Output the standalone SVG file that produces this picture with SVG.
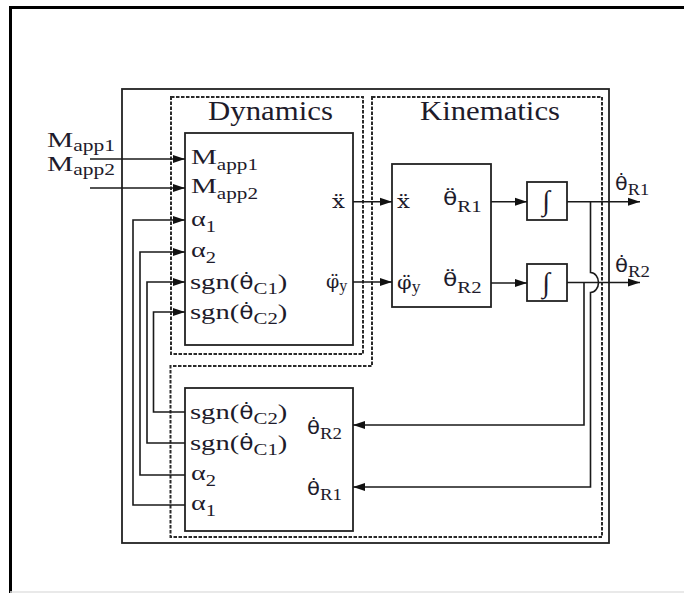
<svg xmlns="http://www.w3.org/2000/svg" width="684" height="593" viewBox="0 0 684 593">
<style>
.t{font-family:"Liberation Serif","Times New Roman",serif;font-size:22px;fill:#1e1b2b}
.h{font-size:28px}
.s{font-size:16px}
.g{font-family:"DejaVu Serif",serif;font-size:19px}
.q{font-family:"DejaVu Sans","Open Sans",sans-serif;font-size:18px}
.box{fill:none;stroke:#222;stroke-width:1.8}
.dash{fill:none;stroke:#2a2a2a;stroke-width:2;stroke-dasharray:3.5 1.5}
.ca{fill:none;stroke:#1a1a1a;stroke-width:1.6;marker-end:url(#ah)}
</style>
<defs>
<marker id="ah" markerUnits="userSpaceOnUse" markerWidth="13" markerHeight="9" refX="12" refY="4.5" orient="auto">
<path d="M0,0.5 L12,4.5 L0,8.5 z" fill="#111"/>
</marker>
</defs>
<rect width="684" height="593" fill="#fff"/>
<path d="M10.5,593 V7.5 H684" fill="none" stroke="#000" stroke-width="3"/>
<path d="M10,592 H684" stroke="#e2e2e2" stroke-width="1.5"/>

<g id="outer">
<rect class="box" x="122" y="89" width="487" height="454"/>
</g>
<g id="dynamics-region">
<rect class="dash" x="171" y="97" width="192" height="257"/>
<text class="t h" x="208" y="120" textLength="125" lengthAdjust="spacingAndGlyphs">Dynamics</text>
</g>
<g id="kinematics-region">
<path class="dash" d="M372,97 H602 V537 H170.5 V366 H372 Z"/>
<text class="t h" x="420" y="120" textLength="140" lengthAdjust="spacingAndGlyphs">Kinematics</text>
</g>

<g id="inputs">
<text class="t" x="47" y="147" textLength="68" lengthAdjust="spacingAndGlyphs">M<tspan class="s" dy="4">app1</tspan></text>
<text class="t" x="47" y="171" textLength="68" lengthAdjust="spacingAndGlyphs">M<tspan class="s" dy="4">app2</tspan></text>
</g>

<g id="dynamics-block">
<rect class="box" x="185" y="133" width="168" height="212"/>
<text class="t" x="191" y="164" textLength="67" lengthAdjust="spacingAndGlyphs">M<tspan class="s" dy="6">app1</tspan></text>
<text class="t" x="191" y="193" textLength="67" lengthAdjust="spacingAndGlyphs">M<tspan class="s" dy="6">app2</tspan></text>
<text class="t" x="191" y="226" textLength="25" lengthAdjust="spacingAndGlyphs">α<tspan class="s" dy="6">1</tspan></text>
<text class="t" x="191" y="257" textLength="25" lengthAdjust="spacingAndGlyphs">α<tspan class="s" dy="6">2</tspan></text>
<text class="t" transform="translate(190,289) scale(1.3,1)">sgn(<tspan class="q">θ&#x307;</tspan><tspan class="s" dy="5">C1</tspan><tspan dy="-5">)</tspan></text>
<text class="t" transform="translate(190,319) scale(1.3,1)">sgn(<tspan class="q">θ&#x307;</tspan><tspan class="s" dy="5">C2</tspan><tspan dy="-5">)</tspan></text>
<text class="t" transform="translate(332,208) scale(1.2,1)"><tspan class="g">x&#x308;</tspan></text>
<text class="t" transform="translate(326,288)"><tspan class="g">φ&#x308;</tspan><tspan class="s" dy="3">y</tspan></text>
</g>

<g id="kinematics-block">
<rect class="box" x="392" y="164" width="99" height="143"/>
<text class="t" transform="translate(397,208) scale(1.2,1)"><tspan class="g">x&#x308;</tspan></text>
<text class="t" transform="translate(397,289) scale(1.1,1)"><tspan class="g">φ&#x308;</tspan><tspan class="s" dy="3">y</tspan></text>
<text class="t" transform="translate(443,205) scale(1.3,1)"><tspan class="q">θ&#x308;</tspan><tspan class="s" dy="7">R1</tspan></text>
<text class="t" transform="translate(443,286) scale(1.3,1)"><tspan class="q">θ&#x308;</tspan><tspan class="s" dy="7">R2</tspan></text>
</g>

<g id="integrator1">
<rect class="box" x="527" y="182" width="40" height="38"/>
<text class="t" x="546" y="210" text-anchor="middle" style="font-size:28px">∫</text>
</g>
<g id="integrator2">
<rect class="box" x="527" y="264" width="40" height="37"/>
<text class="t" x="546" y="292" text-anchor="middle" style="font-size:28px">∫</text>
</g>

<g id="outputs">
<text class="t" transform="translate(615,190) scale(1.15,1)"><tspan class="q">θ&#x307;</tspan><tspan class="s" dy="5">R1</tspan></text>
<text class="t" transform="translate(615,272) scale(1.18,1)"><tspan class="q">θ&#x307;</tspan><tspan class="s" dy="5">R2</tspan></text>
</g>

<g id="inverse-block">
<rect class="box" x="185" y="388" width="168" height="143"/>
<text class="t" transform="translate(190,419) scale(1.3,1)">sgn(<tspan class="q">θ&#x307;</tspan><tspan class="s" dy="5">C2</tspan><tspan dy="-5">)</tspan></text>
<text class="t" transform="translate(190,450) scale(1.3,1)">sgn(<tspan class="q">θ&#x307;</tspan><tspan class="s" dy="5">C1</tspan><tspan dy="-5">)</tspan></text>
<text class="t" x="191" y="480" textLength="25" lengthAdjust="spacingAndGlyphs">α<tspan class="s" dy="6">2</tspan></text>
<text class="t" x="191" y="510" textLength="25" lengthAdjust="spacingAndGlyphs">α<tspan class="s" dy="6">1</tspan></text>
<text class="t" transform="translate(307,434) scale(1.18,1)"><tspan class="q">θ&#x307;</tspan><tspan class="s" dy="5">R2</tspan></text>
<text class="t" transform="translate(307,495) scale(1.18,1)"><tspan class="q">θ&#x307;</tspan><tspan class="s" dy="5">R1</tspan></text>
</g>

<g id="connectors">
<path class="ca" d="M90,159 H185"/>
<path class="ca" d="M90,188 H185"/>
<path class="ca" d="M185,505 H133 V220 H185"/>
<path class="ca" d="M185,475 H140 V252 H185"/>
<path class="ca" d="M185,443 H147 V282 H185"/>
<path class="ca" d="M185,412 H153.5 V312 H185"/>
<path class="ca" d="M353,201.7 H392"/>
<path class="ca" d="M353,282 H392"/>
<path class="ca" d="M491,201.7 H527"/>
<path class="ca" d="M491,283 H527"/>
<path class="ca" d="M567,201.7 H640"/>
<path class="ca" d="M567,282.5 H640"/>
<path class="ca" d="M590.5,201.7 V272.5 A8,10 0 0 1 590.5,292.5 V487 H353"/>
<path class="ca" d="M584,282.5 V425 H353"/>
</g>
</svg>
